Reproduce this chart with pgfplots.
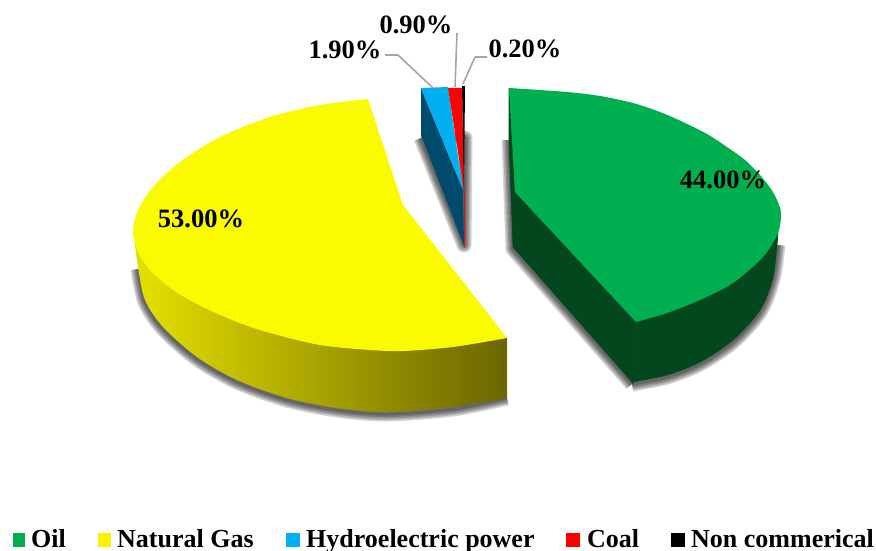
\documentclass[border=0pt]{standalone}
\usepackage{pgfplots}
\pgfplotsset{compat=1.18}
\usepackage{fontspec}
\setmainfont{Liberation Serif}
\definecolor{cOil}{HTML}{00B050}
\definecolor{cOilD}{HTML}{03471F}
\definecolor{cGas}{HTML}{FAFA00}
\definecolor{cGasL}{HTML}{E6E000}
\definecolor{cGasD}{HTML}{6A6600}
\definecolor{cHyd}{HTML}{00B0F0}
\definecolor{cHydD}{HTML}{004A6B}
\definecolor{cLead}{HTML}{A6A6A6}
\newcommand{\lab}[3]{\node[font=\fontsize{26.5}{26.5}\selectfont\bfseries,text=black,inner sep=0pt] at (axis cs:#1,#2) {#3};}
\newcommand{\leg}[2]{\node[anchor=base west,font=\fontsize{26}{26}\selectfont\bfseries,text=black,inner sep=0pt] at (axis cs:#1,547) {#2};}
\begin{document}
\begin{tikzpicture}
\useasboundingbox (0,0) rectangle (876pt,551pt);
\begin{axis}[
  scale only axis,width=876pt,height=551pt,
  xmin=0,xmax=876,ymin=0,ymax=551,y dir=reverse,
  axis lines=none,clip=false,
  every axis plot/.append style={no markers,line join=round},
  shad/.style={draw=black,draw opacity=0.17,fill=none,line join=round},
  ]
% shadows: the blurred underside of each slice
\pgfplotsinvokeforeach{15,12,9,6,3}{
\addplot[shad,smooth,line width=#1pt] coordinates {(138,269)(145,302)(163,329)(197,359)(237,382)(287,400)(337,410)(387,414)(453,409)(507,398)};
\addplot[shad,line width=#1pt] coordinates {(509,140)(513,249)(632,384)};
\addplot[shad,smooth,line width=#1pt] coordinates {(632,384)(667,377)(700,364)(733,342)(760,312)(773,279)(778,245)};
\addplot[shad,line width=#1pt] coordinates {(421,138)(464,245)(465,138)(421,138)};
}
% Natural Gas side
\addplot[draw=none,smooth,left color=cGasL,right color=cGasD,middle color=cGasL!50!cGasD] coordinates {(133,230)(138,267)(145,300)(163,327)(197,357)(237,380)(287,398)(337,408)(387,412)(453,407)(507,398)} -- (axis cs:507,338) -- cycle;
% Natural Gas top
\addplot[draw=none,smooth,fill=cGas] coordinates {(368,99)(320,105)(270,117)(220,137)(180,162)(153,187)(138,210)(133,230)(137,250)(150,270)(173,290)(203,307)(237,322)(270,333)(320,345)(370,350)(403,351)(453,347)(507,338)} -- (axis cs:403,205) -- cycle;
% Oil side
\addplot[draw=cOilD,line width=0.6pt,fill=cOilD] coordinates {(509,88)(515,192)(636,322)(632,382)(513,247)(509,140)} -- cycle;
\addplot[draw=cOilD,line width=0.6pt,smooth,fill=cOilD] coordinates {(632,382)(667,375)(700,362)(733,340)(760,310)(773,277)(778,233)} -- (axis cs:636,322) -- cycle;
% Oil top
\addplot[draw=none,smooth,fill=cOil] coordinates {(509,88)(567,92)(600,96)(633,103)(660,112)(683,122)(707,134)(727,147)(745,160)(760,175)(771,189)(777,200)(781,213)(778,233)(763,257)(733,283)(700,300)(667,313)(636,322)} -- (axis cs:515,192) -- cycle;
% small slices
\addplot[draw=none,fill=cHydD] coordinates {(421,88)(463,190)(464,246)(421,135)} -- cycle;
\addplot[draw=none,fill=cHyd] coordinates {(421,88)(448,87)(463,190)} -- cycle;
\addplot[draw=none,fill=red] coordinates {(448,88)(462,88)(464,190)} -- cycle;
\addplot[draw=none,fill=black] coordinates {(462,86)(465,86)(464,190)} -- cycle;
\addplot[red,line width=0.8pt] coordinates {(464,190)(464,247)};
% leader lines
\addplot[cLead,line width=1.6pt] coordinates {(385,55)(398,55)(433,88)};
\addplot[cLead,line width=1.6pt] coordinates {(457,33)(455,87)};
\addplot[cLead,line width=1.6pt] coordinates {(487,57)(475,57)(463,84)};
% legend keys
\addplot[draw=none,fill=cOil] coordinates {(13,533)(25,533)(25,547)(13,547)} -- cycle;
\addplot[draw=none,fill=yellow] coordinates {(98,533)(111,533)(111,547)(98,547)} -- cycle;
\addplot[draw=none,fill=cHyd] coordinates {(286,533)(300,533)(300,547)(286,547)} -- cycle;
\addplot[draw=none,fill=red] coordinates {(566,533)(580,533)(580,547)(566,547)} -- cycle;
\addplot[draw=none,fill=black] coordinates {(671,533)(685,533)(685,547)(671,547)} -- cycle;
\leg{31}{Oil}
\leg{117}{Natural Gas}
\leg{306}{Hydroelectric power}
\leg{587}{Coal}
\leg{691}{Non commerical}
\lab{201}{219}{53.00\%}
\lab{723}{180}{44.00\%}
\lab{345}{50}{1.90\%}
\lab{416}{25}{0.90\%}
\lab{525}{49}{0.20\%}
\end{axis}
\end{tikzpicture}
\end{document}
